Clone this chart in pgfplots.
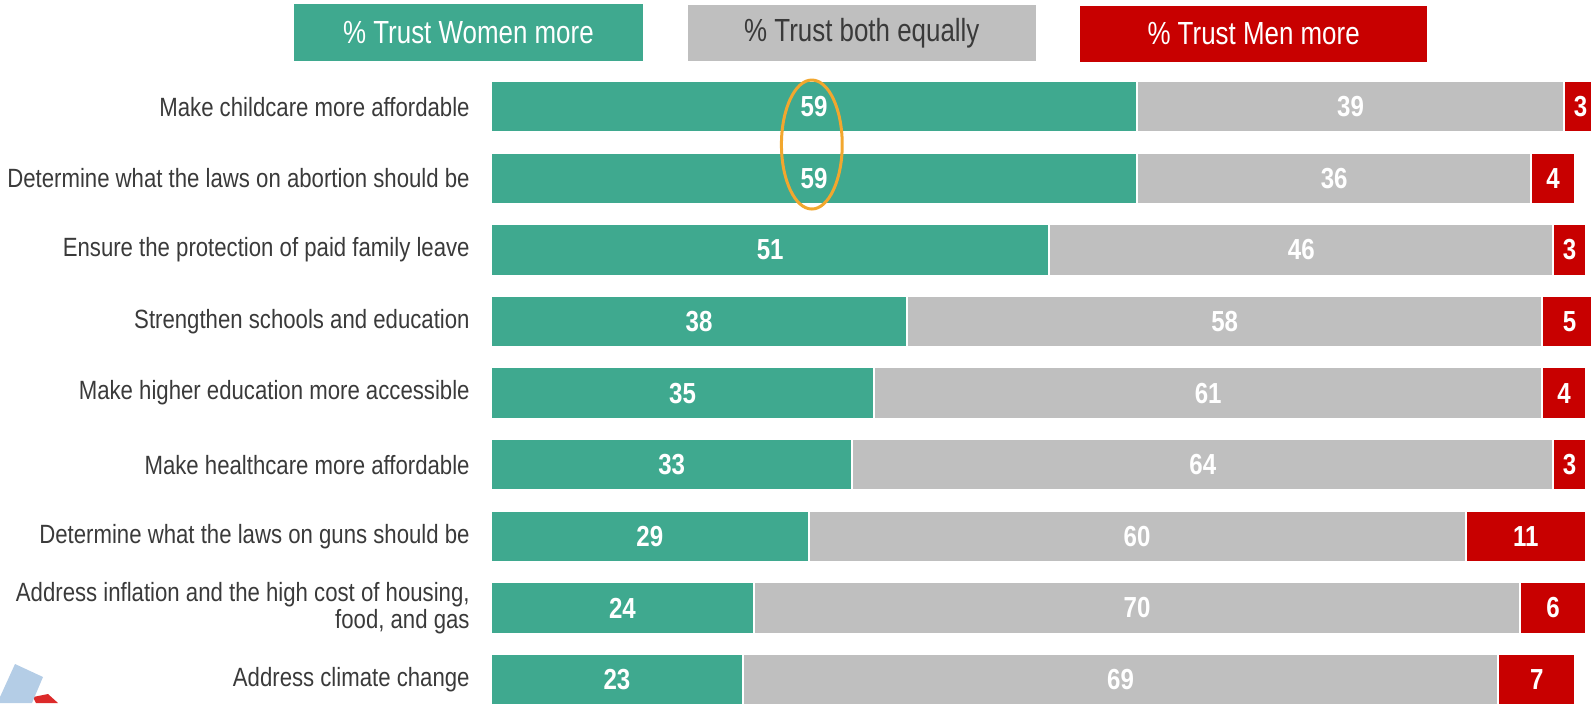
\documentclass[border=0pt]{standalone}
\usepackage{pgfplots}
\pgfplotsset{compat=1.18}
\usepackage{pgfplotstable}
\usepackage{fontspec}
\setmainfont{Liberation Sans}
\newfontfamily\labfont{Liberation Sans}[FakeStretch=0.84]
\newfontfamily\legfont{Liberation Sans}[FakeStretch=0.81]
\newfontfamily\numfont{Liberation Sans}[FakeStretch=0.83]

\definecolor{cgreen}{HTML}{3FA98F}
\definecolor{cgray}{HTML}{BFBFBF}
\definecolor{cred}{HTML}{C80000}
\definecolor{ctext}{HTML}{3A3A3A}
\definecolor{corange}{HTML}{F2A72E}
\definecolor{cblue}{HTML}{B4CDE6}
\definecolor{cred2}{HTML}{DC2A2A}

\pgfplotstableread{
y v
9 59
8 59
7 51
6 38
5 35
4 33
3 29
2 24
1 23
}\women
\pgfplotstableread{
y v
9 39
8 36
7 46
6 58
5 61
4 64
3 60
2 70
1 69
}\both
\pgfplotstableread{
y v
9 3
8 4
7 3
6 5
5 4
4 3
3 11
2 6
1 7
}\men

\begin{document}
\begin{tikzpicture}
\useasboundingbox (0,0) rectangle (795.5pt,351.5pt);
% decorative corner graphic
\fill[cred2] (16.5pt,3pt) -- (24pt,4.5pt) -- (29pt,0pt) -- (18pt,0pt) -- cycle;
\fill[cblue] (7.5pt,19.5pt) -- (21.5pt,13pt) -- (16pt,0pt) -- (0pt,0pt) -- (0pt,3pt) -- cycle;
% legend boxes
\fill[cgreen] (147pt,321.15pt) rectangle (321.35pt,349.5pt);
\node[text=white, font=\legfont\fontsize{16}{18}\selectfont] at (234.2pt,335.3pt) {\% Trust Women more};
\fill[cgray] (344pt,321pt) rectangle (517.8pt,349pt);
\node[text=ctext, font=\legfont\fontsize{16}{18}\selectfont] at (430.9pt,335pt) {\% Trust both equally};
\fill[cred] (540pt,320.5pt) rectangle (713.5pt,348.5pt);
\node[text=white, font=\legfont\fontsize{16}{18}\selectfont] at (626.8pt,334.5pt) {\% Trust Men more};
\begin{axis}[
  at={(245.5pt,0pt)}, anchor=south west,
  x=5.475pt, y=35.8pt,
  xmin=0, xmax=102,
  ymin=0.672, ymax=9.513,
  clip=false,
  xbar stacked,
  bar width=0.72,
  axis line style={draw=none},
  tick style={draw=none},
  major tick length=0pt,
  xtick=\empty,
  ytick={1,...,9},
  yticklabels={Address climate change,
    {Address inflation and the high cost of housing,\\food, and gas},
    Determine what the laws on guns should be,
    Make healthcare more affordable,
    Make higher education more accessible,
    Strengthen schools and education,
    Ensure the protection of paid family leave,
    Determine what the laws on abortion should be,
    Make childcare more affordable},
  yticklabel style={align=right, anchor=east, inner sep=0pt, xshift=-10.5pt,
    text=ctext, font=\labfont\fontsize{13.2}{13.7}\selectfont},
  point meta=explicit,
  nodes near coords={\pgfmathprintnumber[assume math mode=true]{\pgfplotspointmeta}},
  every node near coord/.append style={anchor=center, text=white,
    font=\numfont\bfseries\fontsize{14.5}{16}\selectfont},
]
\addplot[fill=cgreen, draw=white, line width=1pt] table[x=v, y=y, meta=v] {\women};
\addplot[fill=cgray, draw=white, line width=1pt] table[x=v, y=y, meta=v] {\both};
\addplot[fill=cred, draw=white, line width=1pt] table[x=v, y=y, meta=v] {\men};
\coordinate (E) at (axis cs:29.3,8.472);
\end{axis}
\draw[corange, line width=1.5pt] (E) ellipse [x radius=15.2pt, y radius=32.25pt];
\end{tikzpicture}
\end{document}
